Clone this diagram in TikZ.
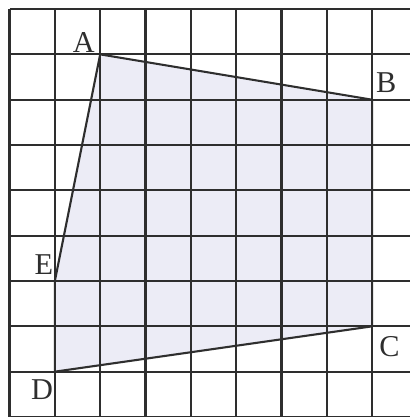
\documentclass[tikz,border=0pt]{standalone}
\usepackage{fontspec}
\setmainfont{Liberation Serif}
\usepackage{tikz}
\usetikzlibrary{positioning,calc}
\definecolor{areaFill}{HTML}{ECECF6}
\definecolor{ink}{HTML}{2E2E2E}

\begin{document}
\begin{tikzpicture}[x=1cm,y=1cm,gridline/.style={draw=ink,line width=1.3pt},side/.style={draw=ink,line width=1.3pt,line join=round},lbl/.style={inner sep=0pt,font=\fontsize{19}{22}\selectfont,text=ink}]
    \useasboundingbox (-0.21,0) rectangle (8.82,9.2);
    \coordinate (A) at (2,8);
    \coordinate (B) at (8,7);
    \coordinate (C) at (8,2);
    \coordinate (D) at (1,1);
    \coordinate (E) at (1,3);
    \fill[areaFill] (A)--(B)--(C)--(D)--(E)--cycle;
    \draw[gridline] (0,0) grid (9,9);
    \draw[side] (A)--(B)--(C)--(D)--(E)--cycle;
    \node[lbl] (la) at (1.64,8.27) {A};
    \node[lbl] (lb) at (8.31,7.37) {B};
    \node[lbl] (lc) at (8.38,1.56) {C};
    \node[lbl] (ld) at (0.72,0.61) {D};
    \node[lbl] (le) at (0.76,3.36) {E};
  \end{tikzpicture}
\end{document}
